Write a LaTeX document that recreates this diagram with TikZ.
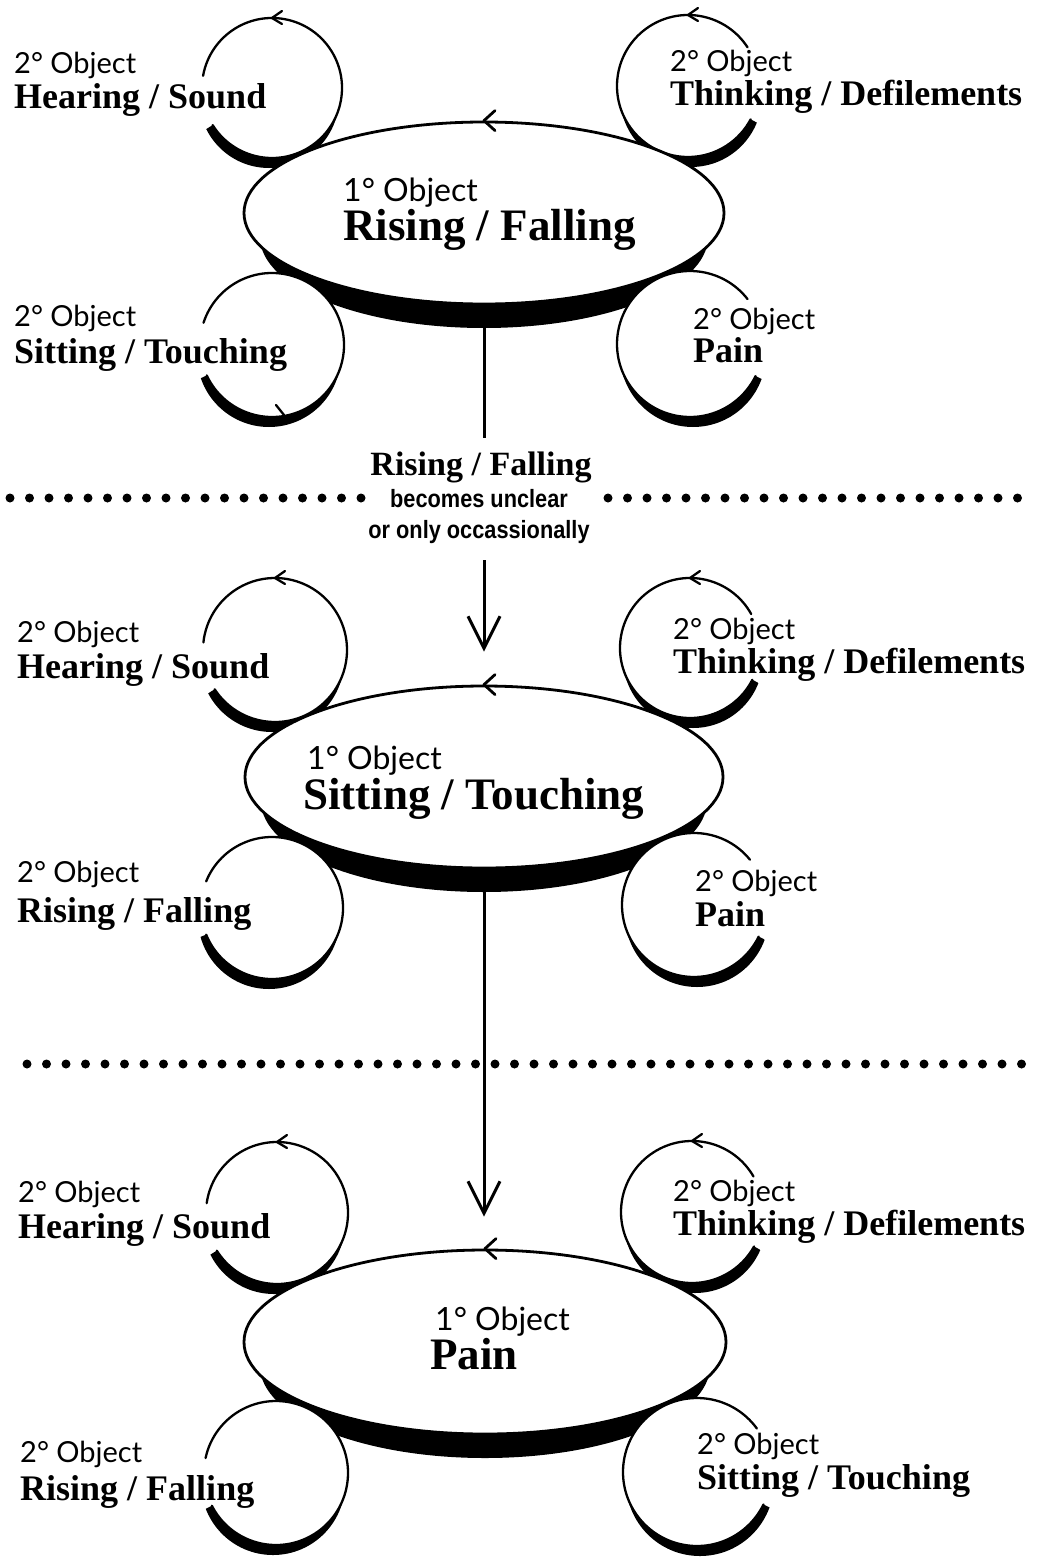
\documentclass[tikz,border=0pt]{standalone}
\usepackage{fontspec}
\setmainfont{Liberation Serif}
\newfontfamily\latofam{Lato}
\newfontfamily\serfam{Liberation Serif}
\newfontfamily\condsans[FakeStretch=0.87]{Liberation Sans}
\usetikzlibrary{shapes.geometric,arrows.meta}
\pgfdeclarelayer{bg}
\pgfdeclarelayer{shad}
\pgfdeclarelayer{fills}
\pgfsetlayers{bg,shad,fills,main}

\newcommand{\objfont}{\latofam\fontsize{29pt}{30pt}\selectfont}
\newcommand{\labfont}{\serfam\bfseries\fontsize{36pt}{38pt}\selectfont}
\newcommand{\pobjfont}{\latofam\fontsize{32pt}{34pt}\selectfont}
\newcommand{\pbigfont}{\serfam\bfseries\fontsize{45pt}{47pt}\selectfont}
\newcommand{\midfont}{\serfam\bfseries\fontsize{34pt}{36pt}\selectfont}
\newcommand{\smallfnt}{\condsans\bfseries\fontsize{25pt}{26pt}\selectfont}

\tikzset{
  bubline/.style={line width=2.3pt, line cap=round, line join=round},
  ellline/.style={line width=2.8pt, line cap=round, line join=round},
  bigell/.style={ellipse, draw, fill=white, line width=2.8pt, inner sep=0pt},
  conn/.style={line width=3pt},
  dots/.style={line width=9pt, line cap=round, dash pattern=on 0pt off 19.5pt},
  objst/.style={font=\objfont, inner sep=0pt, anchor=base west},
  labst/.style={font=\labfont, inner sep=0pt, anchor=base west},
  pobjst/.style={font=\pobjfont, inner sep=0pt, anchor=base west},
  pbigst/.style={font=\pbigfont, inner sep=0pt, anchor=base west},
  midst/.style={font=\midfont, inner sep=0pt, anchor=base},
  smallst/.style={font=\smallfnt, inner sep=0pt, anchor=base},
}

% #1 name, #2 x, #3 y (down), #4 r, #5 arc start, #6 arc end, #7 shadow dx, #8 #9 shadow angles
\newcommand{\bubble}[9]{%
  \coordinate (#1) at (#2,-#3);
  \begin{pgfonlayer}{shad}
    \begin{scope}
      \clip (#1) -- ++(#8:150pt) arc[start angle=#8, end angle=#9, radius=150pt] -- cycle;
      \fill[black] ([shift={(#7pt,-10pt)}]#1) circle[radius=#4pt];
    \end{scope}
  \end{pgfonlayer}
  \begin{pgfonlayer}{fills}
    \fill[white] (#1) circle[radius=#4pt];
    \draw[bubline] (#1) ++(#5:#4pt) arc[start angle=#5, end angle=#6, radius=#4pt];
  \end{pgfonlayer}
}
\newcommand{\toparr}[2]{\draw[bubline] (#1) ++(10pt,#2pt) ++(0pt,7pt) -- ++(-10pt,-7pt) -- ++(10pt,-6pt);}
\newcommand{\ellarr}[1]{\draw[ellline] (#1.north) ++(11pt,10pt) -- ++(-11pt,-10pt) -- ++(11pt,-10pt);}
\newcommand{\ellshadow}[3]{\begin{pgfonlayer}{shad}\fill[black] ([yshift=-24pt]#1.center) ellipse[x radius=#2pt, y radius=#3pt];\end{pgfonlayer}}
\newcommand{\seclab}[5]{\node[objst] (#1a) at (#2,-#3) {2° Object}; \node[labst] (#1b) at (#2,-#4) {#5};}

\begin{document}
\begin{tikzpicture}[x=1pt,y=1pt]
\begin{pgfonlayer}{bg}
  \fill[white] (0,0) rectangle (1043,-1563);
\end{pgfonlayer}
\useasboundingbox (0,0) rectangle (1043,-1563);

% ---------- Section 1 ----------
\bubble{c1tl}{272}{88}{70}{212}{530}{-3}{212}{365}
\bubble{c1bl}{272}{345}{72}{205}{522}{-3}{205}{365}
\bubble{c1tr}{688}{86}{71}{33}{332}{3}{180}{332}
\bubble{c1br}{690}{344}{73}{38}{334}{3}{180}{334}
\node[bigell, minimum width=480pt, minimum height=182pt] (e1) at (484,-213) {};
\ellshadow{e1}{224}{91}
\ellarr{e1}
\toparr{c1tl}{70}
\toparr{c1tr}{71}
\draw[bubline] (c1bl) ++(12pt,-70pt) -- ++(-8pt,10pt);
\seclab{t1tl}{14}{74}{108}{Hearing / Sound}
\seclab{t1tr}{670}{71}{105}{Thinking / Defilements}
\seclab{t1bl}{14}{326}{363}{Sitting / Touching}
\seclab{t1br}{693}{329}{362}{Pain}
\node[pobjst] (p1a) at (343,-201) {1° Object};
\node[pbigst] (p1b) at (343,-240) {Rising / Falling};

% ---------- transition 1 ----------
\node[midst] (m1) at (481,-475) {Rising / Falling};
\node[smallst] (m2) at (479,-507) {becomes unclear};
\node[smallst] (m3) at (479,-538) {or only occassionally};
\coordinate (d1a) at (10,-498);
\coordinate (d1b) at (362,-498);
\coordinate (d1c) at (608,-498);
\coordinate (d1d) at (1030,-498);
\draw[dots] (d1a) -- (d1b);
\draw[dots] (d1c) -- (d1d);

% ---------- Section 2 ----------
\bubble{c2tl}{275}{650}{72}{213}{534}{-3}{213}{365}
\bubble{c2bl}{272}{908}{71}{202}{518}{-3}{202}{365}
\bubble{c2tr}{690}{648}{70}{29}{333}{3}{180}{333}
\bubble{c2br}{694}{905}{72}{39}{334}{3}{180}{334}
\node[bigell, minimum width=478pt, minimum height=182pt] (e2) at (484,-777) {};
\ellshadow{e2}{223}{91}
\ellarr{e2}
\toparr{c2tl}{72}
\toparr{c2tr}{70}
\seclab{t2tl}{17}{642}{678}{Hearing / Sound}
\seclab{t2tr}{673}{639}{673}{Thinking / Defilements}
\seclab{t2bl}{17}{882}{922}{Rising / Falling}
\seclab{t2br}{695}{891}{926}{Pain}
\node[pobjst] (p2a) at (307,-769) {1° Object};
\node[pbigst] (p2b) at (303,-809) {Sitting / Touching};

% ---------- transition 2 ----------
\coordinate (d2a) at (27,-1064);
\coordinate (d2b) at (1022,-1064);
\draw[dots] (d2a) -- (d2b);

% ---------- Section 3 ----------
\bubble{c3tl}{277}{1213}{71}{212}{532}{-3}{212}{365}
\bubble{c3bl}{276}{1473}{72}{207}{528}{-3}{207}{365}
\bubble{c3tr}{692}{1212}{71}{30}{331}{3}{180}{331}
\bubble{c3br}{697}{1472}{74}{36}{334}{3}{180}{334}
\node[bigell, minimum width=482pt, minimum height=184pt] (e3) at (485,-1342) {};
\ellshadow{e3}{225}{92}
\ellarr{e3}
\toparr{c3tl}{71}
\toparr{c3tr}{71}
\seclab{t3tl}{18}{1202}{1238}{Hearing / Sound}
\seclab{t3tr}{673}{1201}{1235}{Thinking / Defilements}
\seclab{t3bl}{20}{1462}{1500}{Rising / Falling}
\seclab{t3br}{697}{1454}{1489}{Sitting / Touching}
\node[pobjst] (p3a) at (435,-1330) {1° Object};
\node[pbigst] (p3b) at (430,-1369) {Pain};

% ---------- connectors ----------
\coordinate (l1end) at (484,-438);
\coordinate (a1start) at (484,-560);
\draw[conn] (e1.south) -- (l1end);
\draw[conn, -{Straight Barb[length=32pt,width=32pt]}, shorten >=33pt] (a1start) -- (e2.north);
\draw[conn, -{Straight Barb[length=32pt,width=32pt]}, shorten >=32pt] (e2.south) -- (e2.south |- e3.north);
\end{tikzpicture}
\end{document}
